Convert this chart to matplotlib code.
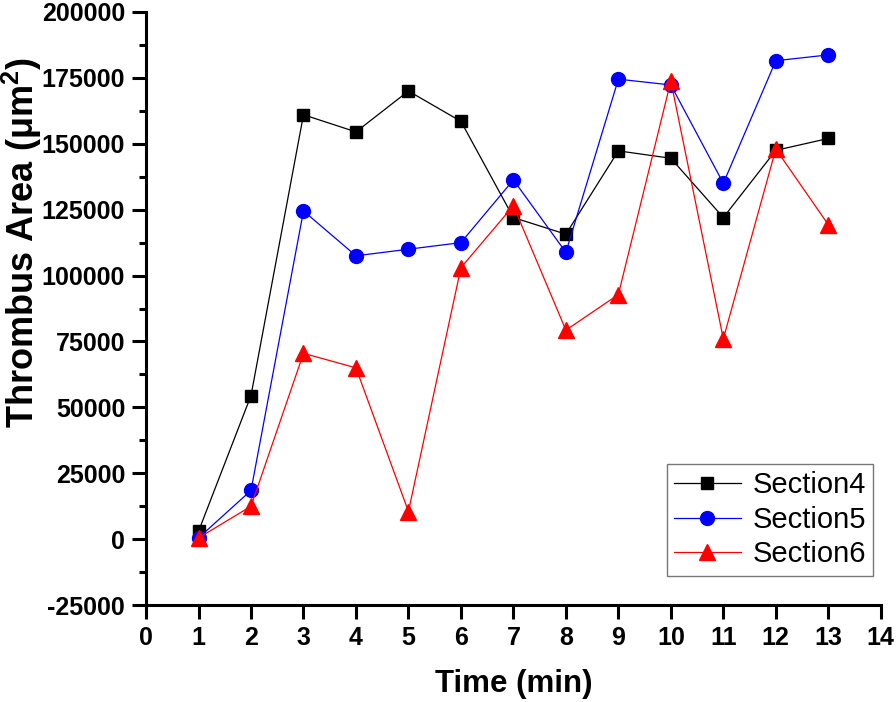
import matplotlib.pyplot as plt
from matplotlib.ticker import MultipleLocator

plt.rcParams['font.family'] = ['Liberation Sans', 'DejaVu Sans']
plt.rcParams['axes.unicode_minus'] = False

time_min = [1, 2, 3, 4, 5, 6, 7, 8, 9, 10, 11, 12, 13]
section4 = [3000, 54500, 161000, 154500, 170000, 158500, 122000, 115700, 147300, 144500, 122000, 147500, 152000]
section5 = [500, 18500, 124500, 107500, 110000, 112500, 136300, 108800, 174500, 172300, 135000, 181500, 183700]
section6 = [500, 12500, 70500, 65000, 10500, 103000, 126500, 79300, 92800, 173800, 76000, 148000, 119300]

fig = plt.figure(figsize=(8.96, 7.02), dpi=100)
ax = fig.add_axes([0.163, 0.138, 0.820, 0.845])

ax.plot(time_min, section4, color="black", lw=0.9, marker="s", ms=9, label="Section4")
ax.plot(time_min, section5, color="blue", lw=0.9, marker="o", ms=10, label="Section5")
ax.plot(time_min, section6, color="red", lw=0.9, marker="^", ms=11, label="Section6")

ax.set_xlim(0, 14)
ax.set_ylim(-25000, 200000)
ax.xaxis.set_major_locator(MultipleLocator(1))
ax.yaxis.set_major_locator(MultipleLocator(25000))
ax.yaxis.set_minor_locator(MultipleLocator(12500))

for s in ["top", "right"]:
    ax.spines[s].set_visible(False)
for s in ["left", "bottom"]:
    ax.spines[s].set_linewidth(2.2)

ax.tick_params(axis="both", which="major", direction="out", length=10, width=2.2, labelsize=18, pad=5)
ax.tick_params(axis="y", which="minor", direction="out", length=5, width=2.2)
for lab in ax.get_xticklabels() + ax.get_yticklabels():
    lab.set_fontweight("bold")

ax.set_xlabel("Time (min)", fontsize=22.5, fontweight="bold", labelpad=14)
ax.set_ylabel("Thrombus Area (\u03bcm$\\mathregular{^2}$)", fontsize=26, fontweight="bold")
ax.yaxis.set_label_coords(-0.139, 0.612)

leg = ax.legend(loc="lower right", bbox_to_anchor=(0.998, 0.04), fontsize=21, frameon=True,
                fancybox=False, edgecolor="#555555", handlelength=2.3, borderpad=0.25,
                labelspacing=0.22, handletextpad=0.4, borderaxespad=0.2)
leg.get_frame().set_linewidth(1)

fig.savefig("out.png", dpi=100)
